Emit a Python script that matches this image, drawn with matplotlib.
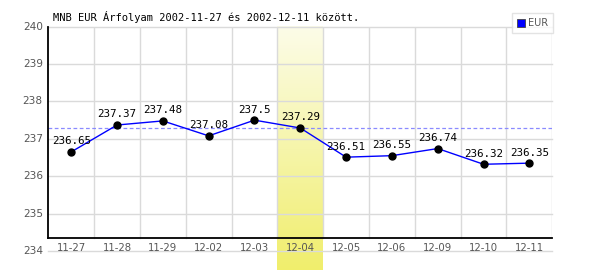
import numpy as np
import matplotlib
matplotlib.use('Agg')
import matplotlib.pyplot as plt
from matplotlib.patches import Patch
from matplotlib.colors import LinearSegmentedColormap

dates = ['11-27', '11-28', '11-29', '12-02', '12-03', '12-04',
         '12-05', '12-06', '12-09', '12-10', '12-11']
rates = [236.65, 237.37, 237.48, 237.08, 237.5, 237.29,
         236.51, 236.55, 236.74, 236.32, 236.35]
yticks = [234, 235, 236, 237, 238, 239, 240]
highlight = 5
ref_level = 237.3
title = 'MNB EUR Árfolyam 2002-11-27 és 2002-12-11 között.'

fig = plt.figure(figsize=(6, 2.7), dpi=100)
ax = fig.add_axes([0.0805, 0.0704, 0.84, 0.8307])
x = np.arange(len(dates))
n = len(dates)
for s in ax.spines.values():
    s.set_visible(False)
ax.set_xticks([])
ax.set_yticks([])

axis_y = 234.35
grid_c = '#dadada'

# highlighted day: yellow gradient running down to the image bottom
grad = np.linspace(0, 1, 100).reshape(-1, 1)
cmap = LinearSegmentedColormap.from_list('yl', ['#fcfce8', '#f0ee6c'])
ax.imshow(grad, cmap=cmap, aspect='auto', origin='upper',
          extent=[highlight - 0.5, highlight + 0.5, 233.45, 240],
          clip_on=False, zorder=0)
ax.set_xlim(-0.5, n - 0.5)
ax.set_ylim(234, 240)

# grid
for v in yticks:
    ax.plot([-0.5, n - 0.5], [v, v], color=grid_c, lw=1, zorder=1, clip_on=False)
for v in np.arange(0.5, n, 1.0):
    ax.plot([v, v], [axis_y, 240], color=grid_c, lw=1, zorder=1)

# axis lines
ax.plot([-0.5, -0.5], [axis_y, 240], color='black', lw=1.3, zorder=3, clip_on=False)
ax.plot([-0.5, n - 0.5], [axis_y, axis_y], color='black', lw=1.3, zorder=3, clip_on=False)

ax.axhline(ref_level, color='#8a8aff', lw=0.9, ls=(0, (3, 2)), zorder=2)

ax.plot(x, rates, color='#0000ff', lw=1, zorder=4)
ax.plot(x, rates, 'o', color='black', ms=5, zorder=5)
for xi, r in zip(x, rates):
    ax.annotate(f'{r:g}', (xi, r), xytext=(0, 4), textcoords='offset points',
                ha='center', va='bottom', fontsize=7.8, family='DejaVu Sans Mono',
                color='black', zorder=6)

# tick labels
for v in yticks:
    ax.text(-0.62, v, str(v), ha='right', va='center', fontsize=7.6, color='#555555')
for xi, d in zip(x, dates):
    ax.text(xi, 234.08, d, ha='center', va='center', fontsize=7.3, color='#555555')

fig.text(53 / 600, 1 - 17 / 270, title, fontsize=7.5, family='DejaVu Sans Mono',
         ha='left', va='center', color='black')

leg = fig.legend(handles=[Patch(facecolor='#0000ff', edgecolor='#444444', lw=0.6)],
                 labels=['EUR'], loc='upper right',
                 bbox_to_anchor=(552.7 / 600, 1 - 13.3 / 270),
                 fontsize=7, frameon=True, fancybox=False, borderaxespad=0,
                 handlelength=0.8, handleheight=0.8, handletextpad=0.3,
                 borderpad=0.5)
leg.get_frame().set_edgecolor('#dddddd')
leg.get_frame().set_linewidth(1)
for t in leg.get_texts():
    t.set_color('#555555')

fig.savefig('out.png', dpi=100)
